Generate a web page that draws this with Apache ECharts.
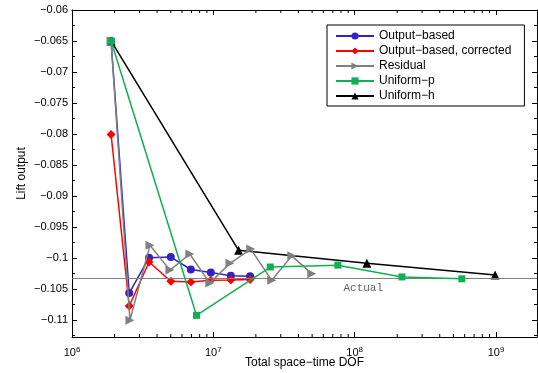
<!DOCTYPE html>
<html>
<head>
<meta charset="utf-8">
<script src="https://cdn.jsdelivr.net/npm/echarts@6/dist/echarts.min.js"></script>
<style>
  html, body { margin: 0; padding: 0; background: #ffffff; }
  #chart { width: 538px; height: 373px; }
</style>
</head>
<body>
<div id="chart"></div>
<script>
// DOF (x) and lift output (y) for each adaptation strategy
const dofOutput = [1.89e6, 2.54e6, 3.51e6, 5.0e6, 6.93e6, 9.6e6, 1.33e7, 1.82e7];
const liftOutput = [-0.065, -0.1057, -0.1000, -0.0999, -0.1019, -0.1024, -0.1029, -0.1030];
const liftCorrected = [-0.0801, -0.1078, -0.1007, -0.1038, -0.1039, -0.10365, -0.1036, -0.1035];

const dofResidual = [1.89e6, 2.57e6, 3.56e6, 4.93e6, 6.82e6, 9.44e6, 1.31e7, 1.84e7, 2.59e7, 3.59e7, 4.97e7];
const liftResidual = [-0.065, -0.1101, -0.098, -0.102, -0.0994, -0.1041, -0.1009, -0.0986, -0.10365, -0.0997, -0.1026];

const dofUniformP = [1.89e6, 7.6e6, 2.53e7, 7.6e7, 2.16e8, 5.73e8];
const liftUniformP = [-0.065, -0.1093, -0.1015, -0.1012, -0.1031, -0.1034];

const dofUniformH = [1.89e6, 1.51e7, 1.22e8, 9.86e8];
const liftUniformH = [-0.065, -0.0988, -0.1009, -0.1028];

const liftActual = -0.10337;
const actualLabelDof = 1.15e8;

// axis ranges
const xMin = 1e6, xMax = 1.95e9;
const yMin = -0.1128, yMax = -0.06;
const yStep = 0.0025;

// minor tick positions on the log axis (2..9 x each decade)
const minorX = [];
[1e6, 1e7, 1e8, 1e9].forEach(d => {
  for (let m = 2; m <= 9; m++) if (d * m < xMax) minorX.push(d * m);
});
// y ticks every 0.0025, labelled every 0.005
const yTicks = [];
for (let v = yMax; v >= yMin - 1e-9; v -= yStep) yTicks.push(+v.toFixed(4));

const font = "'Liberation Sans', Arial, sans-serif";

const pairs = (xs, ys) => xs.map((x, i) => [x, ys[i]]);

const chart = echarts.init(document.getElementById("chart"));

const baseLine = (name, color, symbol, size, xs, ys, z, extra) => Object.assign({
  name,
  type: "line",
  data: pairs(xs, ys),
  symbol,
  symbolSize: size,
  z,
  lineStyle: { color, width: 1.5 },
  itemStyle: { color, borderWidth: 0 },
  emphasis: { disabled: true },
  animation: false,
}, extra || {});

const yLabel = v => {
  const s = Math.abs(v).toFixed(3).replace(/0+$/, "");
  return (v < 0 ? "\u2212" : "") + s;
};

const option = {
  backgroundColor: "#ffffff",
  animation: false,
  grid: { left: 72, right: 1, top: 10, bottom: 36, outerBoundsMode: "none" },
  legend: {
    orient: "vertical",
    left: 327,
    top: 25,
    padding: [5, 13, 4, 8],
    itemWidth: 38,
    itemHeight: 9,
    itemGap: 3,
    backgroundColor: "#ffffff",
    borderColor: "#000000",
    borderWidth: 1,
    textStyle: { fontFamily: font, fontSize: 12, color: "#000000" },
    data: ["Output\u2212based", "Output\u2212based, corrected", "Residual", "Uniform\u2212p", "Uniform\u2212h"],
  },
  xAxis: [
    {
      type: "log",
      logBase: 10,
      min: xMin,
      max: xMax,
      name: "Total space\u2212time DOF",
      nameLocation: "middle",
      nameGap: 20,
      nameMoveOverlap: false,
      nameTextStyle: { fontFamily: font, fontSize: 12, color: "#000000" },
      axisLine: { onZero: false, lineStyle: { color: "#000000", width: 1 } },
      axisTick: { inside: true, length: 5, lineStyle: { color: "#000000" } },
      splitLine: { show: false },
      axisLabel: {
        showMaxLabel: false,
        margin: 9,
        fontFamily: font,
        fontSize: 11,
        color: "#000000",
        formatter: v => "10{sup|" + Math.round(Math.log10(v)) + "}",
        rich: {
          sup: { fontFamily: font, fontSize: 8, color: "#000000", verticalAlign: "bottom", padding: [0, 0, 6, 0] },
        },
      },
    },
    {
      type: "log",
      logBase: 10,
      min: xMin,
      max: xMax,
      position: "top",
      axisLine: { onZero: false, lineStyle: { color: "#000000", width: 1 } },
      axisTick: { inside: true, length: 5, lineStyle: { color: "#000000" } },
      axisLabel: { show: false },
      splitLine: { show: false },
    },
  ],
  yAxis: [
    {
      type: "value",
      min: yMin,
      max: yMax,
      name: "Lift output",
      nameLocation: "middle",
      nameGap: 44,
      nameMoveOverlap: false,
      nameTextStyle: { fontFamily: font, fontSize: 12, color: "#000000" },
      axisLine: { show: true, onZero: false, lineStyle: { color: "#000000", width: 1 } },
      axisTick: { show: false },
      splitLine: { show: false },
      axisLabel: {
        margin: 4, fontFamily: font, fontSize: 11, color: "#000000", formatter: yLabel,
        customValues: yTicks.filter((v, i) => i % 2 === 0),
      },
    },
    {
      type: "value",
      min: yMin,
      max: yMax,
      position: "right",
      axisLine: { show: true, onZero: false, lineStyle: { color: "#000000", width: 1 } },
      axisTick: { show: false },
      axisLabel: { show: false },
      splitLine: { show: false },
    },
  ],
  series: [
    // minor log ticks (x) and inward y ticks on both sides
    {
      type: "custom",
      silent: true,
      z: 1,
      clip: false,
      data: minorX.map(x => [x, yMin]),
      renderItem: (params, api) => {
        const b = api.coord([api.value(0), yMin]);
        const t = api.coord([api.value(0), yMax]);
        const st = { stroke: "#000000", lineWidth: 1 };
        return {
          type: "group",
          children: [
            { type: "line", shape: { x1: b[0], y1: b[1], x2: b[0], y2: b[1] - 3 }, style: st },
            { type: "line", shape: { x1: t[0], y1: t[1], x2: t[0], y2: t[1] + 3 }, style: st },
          ],
        };
      },
    },
    {
      type: "custom",
      silent: true,
      z: 1,
      clip: false,
      data: yTicks.map((v, i) => [xMin, v, i % 2 === 0 ? 5 : 3]),
      renderItem: (params, api) => {
        const l = api.coord([xMin, api.value(1)]);
        const r = api.coord([xMax, api.value(1)]);
        const len = api.value(2);
        const y = Math.round(l[1]) + 0.5;
        const st = { stroke: "#000000", lineWidth: 1 };
        return {
          type: "group",
          children: [
            { type: "line", shape: { x1: l[0], y1: y, x2: l[0] + len, y2: y }, style: st },
            { type: "line", shape: { x1: r[0], y1: y, x2: r[0] - len, y2: y }, style: st },
          ],
        };
      },
    },
    // "Actual" reference value: line across the plot plus its text
    {
      type: "scatter",
      silent: true,
      z: 1,
      symbol: "circle",
      symbolSize: 1,
      itemStyle: { color: "rgba(0,0,0,0)" },
      data: [[actualLabelDof, liftActual]],
      label: {
        show: true,
        position: "bottom",
        distance: 3,
        formatter: "Actual",
        fontFamily: "'Liberation Mono', 'DejaVu Sans Mono', monospace",
        fontSize: 11,
        color: "#333333",
      },
      markLine: {
        silent: true,
        symbol: "none",
        precision: 6,
        label: { show: false },
        lineStyle: { color: "#808080", width: 1, type: "solid" },
        data: [{ yAxis: liftActual }],
      },
    },
    baseLine("Uniform\u2212h", "#000000", "triangle", 9, dofUniformH, liftUniformH, 2),
    baseLine("Output\u2212based", "#3321c8", "circle", 8, dofOutput, liftOutput, 3),
    baseLine("Output\u2212based, corrected", "#ff0000", "diamond", 9, dofOutput, liftCorrected, 4),
    baseLine("Residual", "#808080", "triangle", 9, dofResidual, liftResidual, 5, { symbolRotate: -90 }),
    baseLine("Uniform\u2212p", "#10b050", "rect", 7, dofUniformP, liftUniformP, 6),
  ],
};

chart.setOption(option);
</script>
</body>
</html>
